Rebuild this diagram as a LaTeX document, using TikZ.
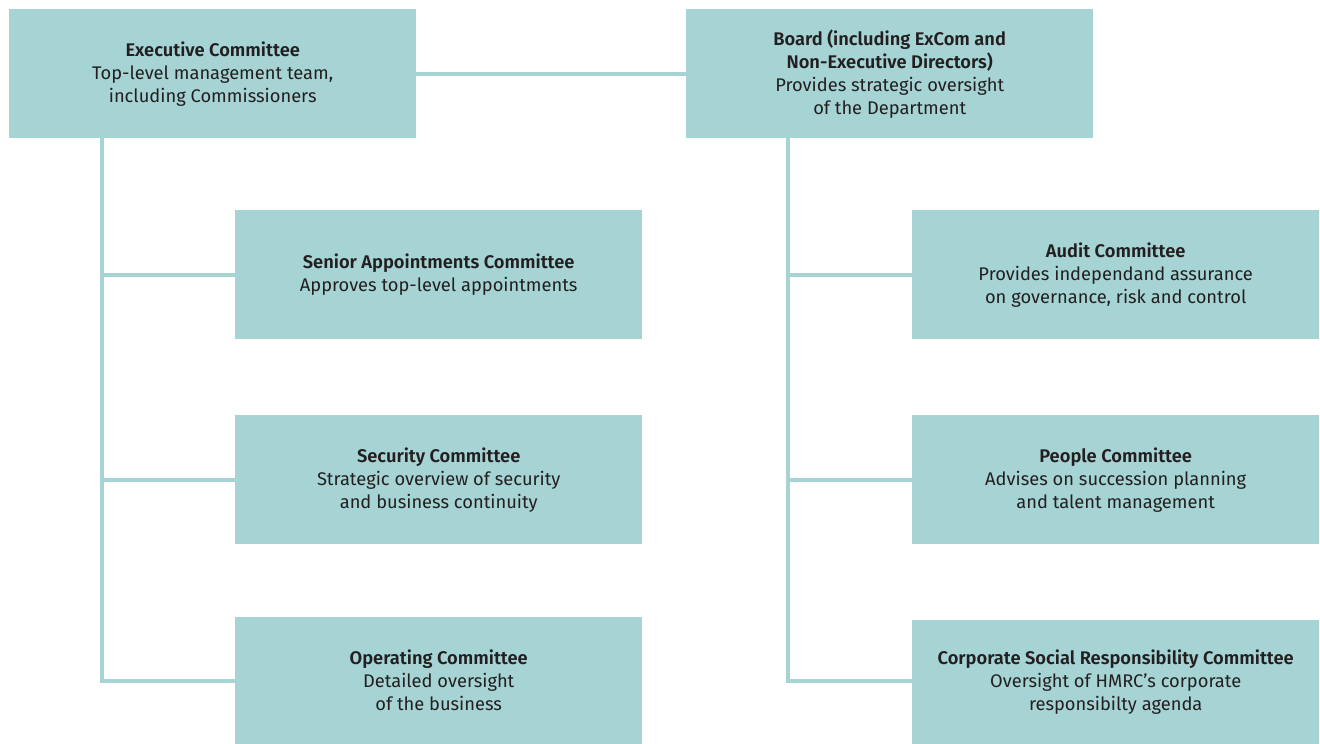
\documentclass[tikz,border=0pt]{standalone}
\usepackage{fontspec}
\setmainfont{Fira Sans}[BoldFont={Fira Sans SemiBold}]
\definecolor{boxfill}{HTML}{A6D3D4}
\definecolor{txt}{HTML}{231F20}
\begin{document}
\begin{tikzpicture}[x=1pt,y=-1pt,
  box/.style={rectangle, fill=boxfill, draw=none, anchor=north west, minimum width=407pt, inner sep=0pt, align=center, text=txt, font=\fontsize{18.3}{23}\selectfont},
  conn/.style={draw=boxfill, line width=4pt}]
\useasboundingbox[fill=white] (0,0) rectangle (1320,744);
\node[box, minimum height=129pt] (ex) at (9,9) {\textbf{Executive Committee}\\Top-level management team,\\including Commissioners};
\node[box, minimum height=129pt] (board) at (686,9) {\textbf{Board (including ExCom and}\\\textbf{Non-Executive Directors)}\\Provides strategic oversight\\of the Department};
\node[box, minimum height=129pt] (sac) at (235,210) {\textbf{Senior Appointments Committee}\\Approves top-level appointments};
\node[box, minimum height=129pt] (sec) at (235,415) {\textbf{Security Committee}\\Strategic overview of security\\and business continuity};
\node[box, minimum height=127pt] (op) at (235,617) {\textbf{Operating Committee}\\Detailed oversight\\of the business};
\node[box, minimum height=129pt] (aud) at (912,210) {\textbf{Audit Committee}\\Provides independand assurance\\on governance, risk and control};
\node[box, minimum height=129pt] (ppl) at (912,415) {\textbf{People Committee}\\Advises on succession planning\\and talent management};
\node[box, minimum height=124pt] (csr) at (912,620) {\textbf{Corporate Social Responsibility Committee}\\Oversight of HMRC's corporate\\responsibilty agenda};
\coordinate (exbus) at (102,0);
\coordinate (bbus) at (788,0);
\draw[conn] (ex.east) -- (board.west);
\draw[conn] (ex.south -| exbus) |- (op.west);
\draw[conn] (exbus |- sac.west) -- (sac.west);
\draw[conn] (exbus |- sec.west) -- (sec.west);
\draw[conn] (board.south -| bbus) |- (csr.west |- op.west);
\draw[conn] (bbus |- aud.west) -- (aud.west);
\draw[conn] (bbus |- ppl.west) -- (ppl.west);
\end{tikzpicture}
\end{document}
